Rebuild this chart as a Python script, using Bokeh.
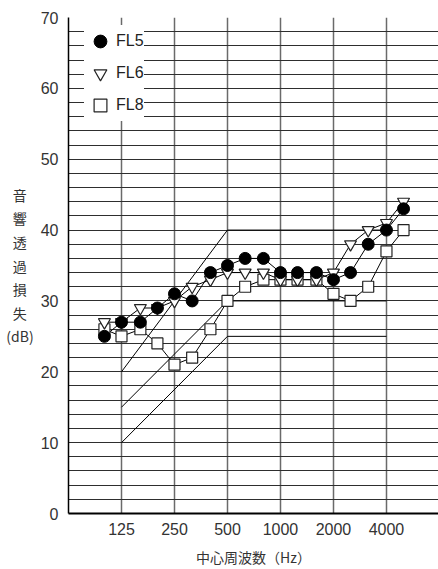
from bokeh.plotting import figure
from bokeh.models import FixedTicker, Legend, LegendItem, ColumnDataSource
from bokeh.embed import file_html
from bokeh.resources import INLINE

# 1/3-octave band centre frequencies (Hz)
freqs = [100, 125, 160, 200, 250, 315, 400, 500, 630, 800, 1000, 1250, 1600,
         2000, 2500, 3150, 4000, 5000]
fl5 = [25, 27, 27, 29, 31, 30, 34, 35, 36, 36, 34, 34, 34, 33, 34, 38, 40, 43]
fl6 = [27, 27, 29, 29, 30, 32, 33, 34, 34, 34, 33, 33, 33, 34, 38, 40, 41, 44]
fl8 = [26, 25, 26, 24, 21, 22, 26, 30, 32, 33, 33, 33, 33, 31, 30, 32, 37, 40]

band_ticks = [125, 250, 500, 1000, 2000, 4000]
band_labels = ["125", "250", "500", "1000", "2000", "4000"]
y_ticks = [0, 10, 20, 30, 40, 50, 60, 70]

# reference grade curves
ref_freqs = [125, 500, 4000]
ref_a = [20, 40, 40]
ref_b = [15, 30, 30]
ref_c = [10, 25, 25]

y_title_chars = ["音", "響", "透", "過", "損", "失"]
y_title_unit = "(dB)"
x_title = "中心周波数（Hz）"

NUM_FONT = "Liberation Sans"
JP_FONT = "Noto Sans CJK JP"

y_title = "\n".join([c + "\u2002" for c in y_title_chars] + [y_title_unit])

p = figure(width=438, height=569, x_axis_type="log", x_range=(62.5, 7900),
           y_range=(0, 70), output_backend="svg", toolbar_location=None,
           min_border_left=68, min_border_right=0, min_border_top=17,
           min_border_bottom=53)
p.outline_line_color = None
p.background_fill_color = "white"

# grids
p.ygrid.ticker = FixedTicker(ticks=list(range(0, 71, 2)))
p.ygrid.grid_line_color = "#2e2e2e"
p.ygrid.grid_line_width = 1
p.xgrid.ticker = FixedTicker(ticks=band_ticks)
p.xgrid.grid_line_color = "#6a6a6a"
p.xgrid.grid_line_width = 1.5

# axes
p.xaxis.ticker = FixedTicker(ticks=band_ticks)
p.xaxis.major_label_overrides = {t: l for t, l in zip(band_ticks, band_labels)}
p.yaxis.ticker = FixedTicker(ticks=y_ticks)
for ax in (p.xaxis[0], p.yaxis[0]):
    ax.major_tick_out = 0
    ax.major_tick_in = 0
    ax.minor_tick_out = 0
    ax.minor_tick_in = 0
    ax.axis_line_color = "black"
    ax.major_label_text_font = NUM_FONT
    ax.major_label_text_font_size = "16px"
    ax.major_label_text_color = "#333333"
    ax.axis_label_text_font = JP_FONT
    ax.axis_label_text_font_size = "14px"
    ax.axis_label_text_font_style = "normal"
    ax.axis_label_text_color = "#333333"
p.xaxis.axis_line_width = 2
p.yaxis.axis_line_width = 1.5
p.xaxis.major_label_standoff = 9
p.yaxis.major_label_standoff = 10
p.xaxis.axis_label = x_title
p.xaxis.axis_label_standoff = 9
p.yaxis.axis_label = y_title
p.yaxis.axis_label_orientation = "horizontal"
p.yaxis.axis_label_text_line_height = 1.18
p.yaxis.axis_label_standoff = 4

# reference curves
for ref in (ref_a, ref_b, ref_c):
    p.line(ref_freqs, ref, line_color="black", line_width=1)

# series
src = ColumnDataSource(dict(f=freqs, fl5=fl5, fl6=fl6, fl8=fl8))
p.line("f", "fl8", source=src, line_color="black", line_width=1)
p.line("f", "fl6", source=src, line_color="black", line_width=1)
p.line("f", "fl5", source=src, line_color="black", line_width=1)
r8 = p.scatter("f", "fl8", source=src, marker="square", size=11,
               fill_color="white", line_color="#222222", line_width=1.2)
r6 = p.scatter("f", "fl6", source=src, marker="inverted_triangle", size=12,
               fill_color="white", line_color="#222222", line_width=1.2)
r5 = p.scatter("f", "fl5", source=src, marker="circle", size=12,
               fill_color="black", line_color="black")

legend = Legend(items=[LegendItem(label="FL5", renderers=[r5]),
                       LegendItem(label="FL6", renderers=[r6]),
                       LegendItem(label="FL8", renderers=[r8])],
                location=(16, 392), padding=4, spacing=-1,
                glyph_width=32, glyph_height=32, label_height=32,
                label_standoff=-13, border_line_color=None,
                background_fill_color="white", background_fill_alpha=1,
                label_text_font=NUM_FONT, label_text_font_size="16px",
                label_text_color="#222222")
p.add_layout(legend)

open("out.html", "w").write(file_html(p, INLINE))
